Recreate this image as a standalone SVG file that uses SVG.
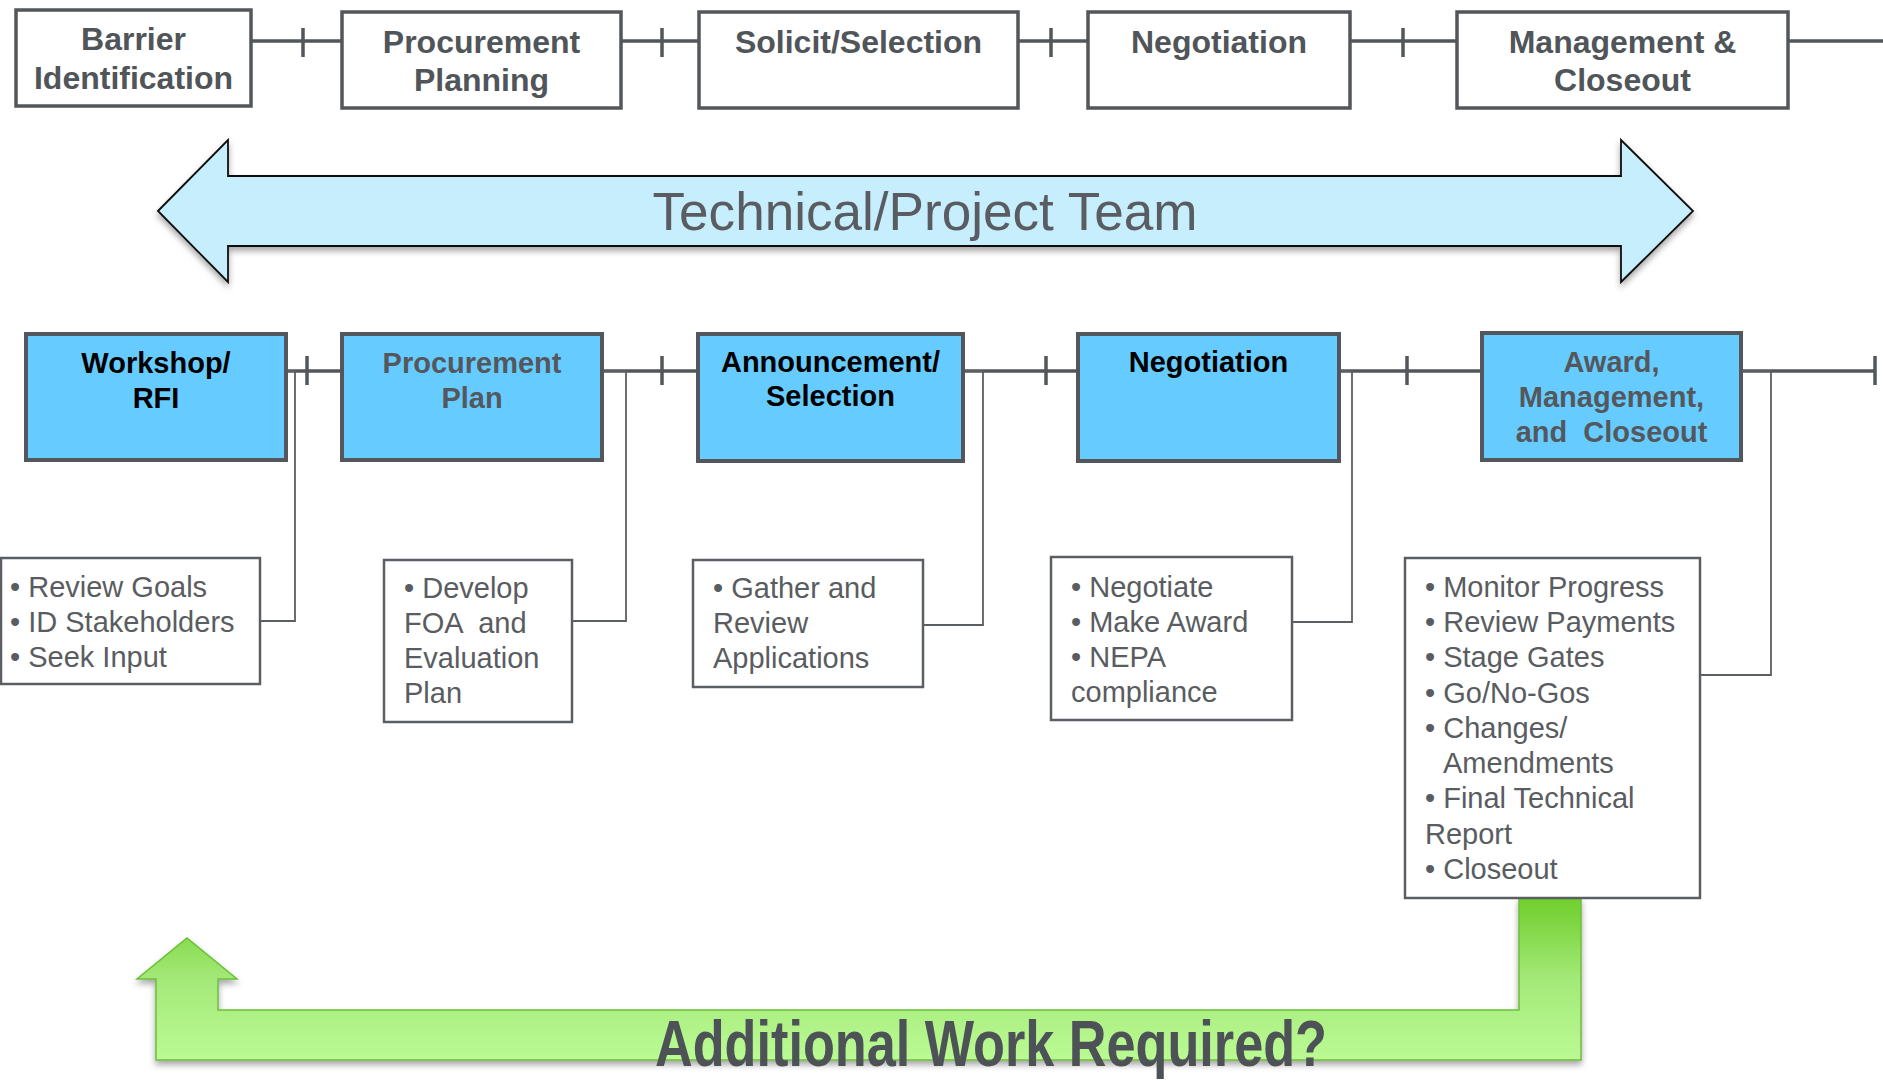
<svg xmlns="http://www.w3.org/2000/svg" width="1883" height="1081" viewBox="0 0 1883 1081">
<style>
.tb{fill:#fff;stroke:#53575b;stroke-width:3.5}
.bb{fill:#66CCFF;stroke:#53575b;stroke-width:4}
.db{fill:#fff;stroke:#5b5f63;stroke-width:2.5}
.ln{stroke:#53575b;stroke-width:3.5;fill:none}
.tn{stroke:#5b5f63;stroke-width:1.8;fill:none}
.t1{font-family:"Liberation Sans",Arial,sans-serif;font-weight:bold;font-size:32px;fill:#505559;text-anchor:middle}
.t2{font-family:"Liberation Sans",Arial,sans-serif;font-weight:bold;font-size:29px;text-anchor:middle;white-space:pre}
.dk{fill:#000}
.gr{fill:#54585d}
.d{font-family:"Liberation Sans",Arial,sans-serif;font-size:29px;fill:#595c60;white-space:pre}
</style>
<defs>
<filter id="sh" x="-5%" y="-20%" width="110%" height="150%">
<feDropShadow dx="0" dy="4" stdDeviation="3" flood-color="#000" flood-opacity="0.35"/>
</filter>
<linearGradient id="gg" x1="0" y1="0" x2="0" y2="1">
<stop offset="0" stop-color="#70CE2C"/>
<stop offset="0.5" stop-color="#A3E978"/>
<stop offset="1" stop-color="#BBFA94"/>
</linearGradient>
</defs>

<g id="connectors">
<path class="ln" d="M251 41H342M621 41H699M1018 41H1088M1350 41H1457M1788 41H1883"/>
<path class="ln" d="M303 28V57M662 28V57M1051 28V57M1403 28V57"/>
<path class="ln" d="M286 371H342M602 371H698M963 371H1078M1339 371H1482M1741 371H1875"/>
<path class="ln" d="M307 356V385M662 356V385M1046 356V385M1407 356V385M1875 356V385"/>
<path class="tn" d="M286 371H295V621H260"/>
<path class="tn" d="M602 371H626V621H573"/>
<path class="tn" d="M963 371H983V625H923"/>
<path class="tn" d="M1339 371H1352V622H1292"/>
<path class="tn" d="M1741 371H1771V675H1700"/>
</g>

<g id="team-arrow">
<path d="M158 211L228 140V176H1621V140L1693 211L1621 282V246H228V282Z" fill="#C7EEFD" stroke="#111" stroke-width="1.8" filter="url(#sh)"/>
<text x="925" y="230" font-family="Liberation Sans, Arial, sans-serif" font-size="53" fill="#595d62" text-anchor="middle" textLength="545" lengthAdjust="spacingAndGlyphs">Technical/Project Team</text>
</g>

<g id="loop-arrow">
<path d="M1519 898H1581V1060H156V979H137L187 938L237 979H218V1010H1519Z" fill="url(#gg)" stroke="#6CBF38" stroke-width="1.5" filter="url(#sh)"/>
<text x="991" y="1066" font-family="Liberation Sans, Arial, sans-serif" font-weight="bold" font-size="65" fill="#4d5257" text-anchor="middle" textLength="672" lengthAdjust="spacingAndGlyphs">Additional Work Required?</text>
</g>

<g id="top-barrier"><rect class="tb" x="16" y="10" width="235" height="96"/><text class="t1" x="133.5"><tspan x="133.5" y="50">Barrier</tspan><tspan x="133.5" y="89">Identification</tspan></text></g>
<g id="top-procurement"><rect class="tb" x="342" y="12" width="279" height="96"/><text class="t1"><tspan x="481.5" y="53">Procurement</tspan><tspan x="481.5" y="91">Planning</tspan></text></g>
<g id="top-solicit"><rect class="tb" x="699" y="12" width="319" height="96"/><text class="t1" x="858.5" y="53">Solicit/Selection</text></g>
<g id="top-negotiation"><rect class="tb" x="1088" y="12" width="262" height="96"/><text class="t1" x="1219" y="53">Negotiation</text></g>
<g id="top-management"><rect class="tb" x="1457" y="12" width="331" height="96"/><text class="t1"><tspan x="1622.5" y="53">Management &amp;</tspan><tspan x="1622.5" y="91">Closeout</tspan></text></g>

<g id="mid-workshop"><rect class="bb" x="26" y="334" width="260" height="126"/><text class="t2 dk"><tspan x="156" y="373">Workshop/</tspan><tspan x="156" y="408">RFI</tspan></text></g>
<g id="mid-procurement"><rect class="bb" x="342" y="334" width="260" height="126"/><text class="t2 gr"><tspan x="472" y="373">Procurement</tspan><tspan x="472" y="408">Plan</tspan></text></g>
<g id="mid-announcement"><rect class="bb" x="698" y="334" width="265" height="127"/><text class="t2 dk"><tspan x="830.5" y="372">Announcement/</tspan><tspan x="830.5" y="406">Selection</tspan></text></g>
<g id="mid-negotiation"><rect class="bb" x="1078" y="334" width="261" height="127"/><text class="t2 dk" x="1208.5" y="372">Negotiation</text></g>
<g id="mid-award"><rect class="bb" x="1482" y="333" width="259" height="127"/><text class="t2 gr"><tspan x="1611.5" y="372">Award,</tspan><tspan x="1611.5" y="407">Management,</tspan><tspan x="1611.5" y="442">and  Closeout</tspan></text></g>

<g id="desc-workshop"><rect class="db" x="1" y="558" width="259" height="126"/><text class="d"><tspan x="10" y="597">• Review Goals</tspan><tspan x="10" y="632">• ID Stakeholders</tspan><tspan x="10" y="667">• Seek Input</tspan></text></g>
<g id="desc-procurement"><rect class="db" x="384" y="560" width="188" height="162"/><text class="d"><tspan x="404" y="598">• Develop</tspan><tspan x="404" y="633">FOA  and</tspan><tspan x="404" y="668">Evaluation</tspan><tspan x="404" y="703">Plan</tspan></text></g>
<g id="desc-announcement"><rect class="db" x="693" y="560" width="230" height="127"/><text class="d"><tspan x="713" y="598">• Gather and</tspan><tspan x="713" y="633">Review</tspan><tspan x="713" y="668">Applications</tspan></text></g>
<g id="desc-negotiation"><rect class="db" x="1051" y="557" width="241" height="163"/><text class="d"><tspan x="1071" y="597">• Negotiate</tspan><tspan x="1071" y="632">• Make Award</tspan><tspan x="1071" y="667">• NEPA</tspan><tspan x="1071" y="702">compliance</tspan></text></g>
<g id="desc-award"><rect class="db" x="1405" y="558" width="295" height="340"/><text class="d"><tspan x="1425" y="597">• Monitor Progress</tspan><tspan x="1425" y="632">• Review Payments</tspan><tspan x="1425" y="667">• Stage Gates</tspan><tspan x="1425" y="703">• Go/No-Gos</tspan><tspan x="1425" y="738">• Changes/</tspan><tspan x="1443" y="773">Amendments</tspan><tspan x="1425" y="808">• Final Technical</tspan><tspan x="1425" y="844">Report</tspan><tspan x="1425" y="879">• Closeout</tspan></text></g>
</svg>
